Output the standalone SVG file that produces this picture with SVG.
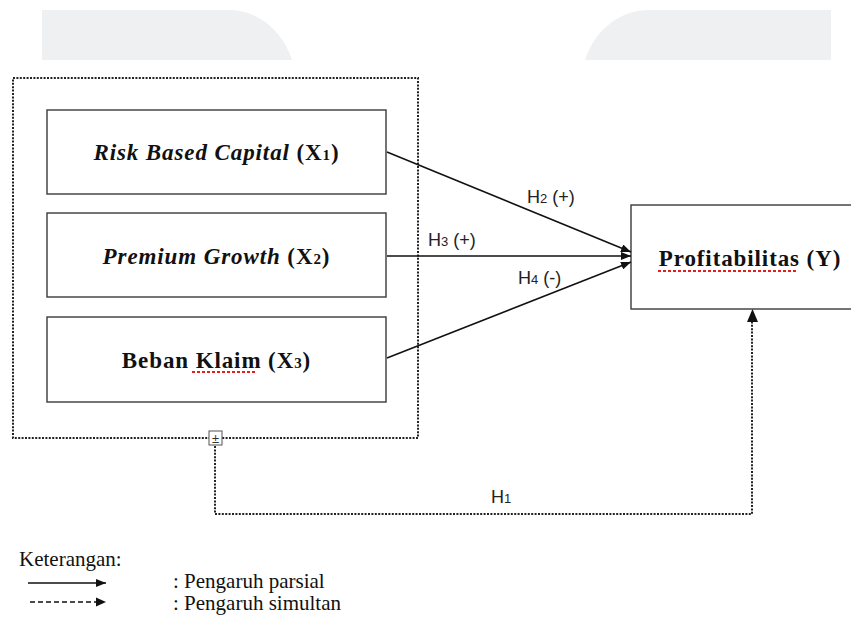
<svg xmlns="http://www.w3.org/2000/svg" width="851" height="617" viewBox="0 0 851 617">
<style>
.box{fill:#fff;stroke:#3a3a3a;stroke-width:1.4}
.dot{fill:none;stroke:#222;stroke-width:2;stroke-dasharray:2 1.4}
.arr{fill:none;stroke:#111;stroke-width:1.5}
.t{font-family:"Liberation Serif","Times New Roman",serif;font-weight:bold;font-size:23px;fill:#111;letter-spacing:0.9px}
.h{font-family:"Liberation Sans",Arial,sans-serif;font-size:18px;fill:#222}
.lg{font-family:"Liberation Serif","Times New Roman",serif;font-size:21px;fill:#111}
.sq{fill:#fff;stroke:#555;stroke-width:1}
.red{fill:none;stroke:#e02020;stroke-width:2;stroke-dasharray:3 2}
</style>
<defs>
<marker id="ah" viewBox="0 0 10 8" refX="10" refY="4" markerWidth="10" markerHeight="8" markerUnits="userSpaceOnUse" orient="auto">
<path d="M0,0 L10,4 L0,8 Z" fill="#111"/>
</marker>
</defs>
<rect width="851" height="617" fill="#fff"/>
<g id="bg">
<path d="M42 10 H228 C262 10 284 35 292 60 H42 Z" fill="#eef0f2"/>
<path d="M585 60 C593 35 615 10 650 10 H831 V60 Z" fill="#eef0f2"/>
</g>
<g id="group-x">
<rect x="13" y="78" width="405" height="360" class="dot"/>
</g>
<g id="x1">
<rect x="47" y="110" width="339" height="84" class="box"/>
<text class="t" x="216.5" y="160" text-anchor="middle"><tspan font-style="italic">Risk Based Capital</tspan> (X<tspan font-size="15">1</tspan>)</text>
</g>
<g id="x2">
<rect x="47" y="213" width="339" height="84" class="box"/>
<text class="t" x="216.5" y="264" text-anchor="middle"><tspan font-style="italic">Premium Growth</tspan> (X<tspan font-size="15">2</tspan>)</text>
</g>
<g id="x3">
<rect x="47" y="317" width="339" height="85" class="box"/>
<text class="t" x="216.5" y="368" text-anchor="middle">Beban Klaim (X<tspan font-size="15">3</tspan>)</text>
<line x1="192" y1="372" x2="257" y2="372" class="red"/>
</g>
<g id="y">
<rect x="631" y="205" width="225" height="104" class="box"/>
<text class="t" x="750" y="266" text-anchor="middle">Profitabilitas (Y)</text>
<line x1="658" y1="271" x2="796" y2="271" class="red"/>
</g>
<g id="connectors">
<line x1="387" y1="152" x2="631" y2="252" class="arr" marker-end="url(#ah)"/>
<line x1="387" y1="256" x2="631" y2="256" class="arr" marker-end="url(#ah)"/>
<line x1="387" y1="358" x2="631" y2="262" class="arr" marker-end="url(#ah)"/>
<polyline points="215,446 215,514 752,514 752,312" class="dot"/>
<path d="M747,322 L752.5,309 L758,322 Z" fill="#111"/>
<rect x="209" y="431" width="13" height="14" class="sq"/>
<text x="215.5" y="443" font-family="Liberation Sans,Arial,sans-serif" font-size="13" text-anchor="middle" fill="#333">±</text>
<text class="h" x="527" y="203">H<tspan font-size="13">2</tspan> (+)</text>
<text class="h" x="428" y="246">H<tspan font-size="13">3</tspan> (+)</text>
<text class="h" x="518" y="284">H<tspan font-size="13">4</tspan> (-)</text>
<text class="h" x="491" y="503">H<tspan font-size="13">1</tspan></text>
</g>
<g id="legend">
<text class="lg" x="19" y="566">Keterangan:</text>
<line x1="28" y1="583" x2="106" y2="583" class="arr" marker-end="url(#ah)"/>
<line x1="30" y1="602" x2="96" y2="602" stroke="#111" stroke-width="1.4" stroke-dasharray="5 3"/>
<path d="M96,597.5 L106,602 L96,606.5 Z" fill="#111"/>
<text class="lg" x="173" y="588">: Pengaruh parsial</text>
<text class="lg" x="173" y="610">: Pengaruh simultan</text>
</g>
</svg>
